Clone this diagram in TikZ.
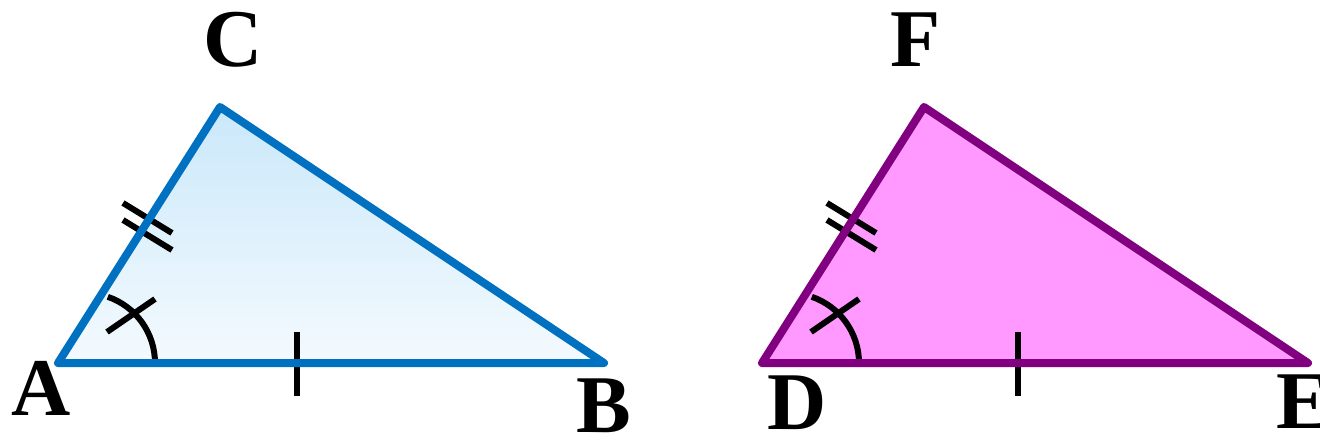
\documentclass[tikz,border=0pt]{standalone}
\usepackage{fontspec}
\setmainfont{Liberation Serif}[BoldFont={Liberation Serif Bold}]
\begin{document}
\begin{tikzpicture}[x=1pt,y=-1pt,
  tri/.style={line width=8pt,line join=round,line cap=round},
  tickmark/.style={line width=6pt,black},
  lbl/.style={font=\fontsize{82}{82}\selectfont\bfseries,inner sep=0pt}]
\useasboundingbox (0,0) rectangle (1320,440);
\definecolor{blueline}{HTML}{0070C0}
\definecolor{bluetop}{HTML}{CAE8FA}
\definecolor{bluebot}{HTML}{F4FAFE}
\definecolor{purpline}{HTML}{800080}
\definecolor{pinkfill}{HTML}{FF99FF}
% vertices
\coordinate (A) at (58,363);
\coordinate (B) at (604,363);
\coordinate (C) at (220,107);
\coordinate (D) at (762,363);
\coordinate (E) at (1308,363);
\coordinate (F) at (924,107);
% triangle ABC
\shade[top color=bluetop,bottom color=bluebot] (A) -- (B) -- (C) -- cycle;
% marks ABC
\draw[tickmark] (85,363) ++(0:70) arc[start angle=0,end angle=-71,radius=70];
\draw[tickmark] (107,332) -- (155,299);
\draw[tickmark] (123,203) -- (172,233);
\draw[tickmark] (123,220) -- (172,250);
\draw[tickmark] (297,332) -- (297,396);
\draw[tri,draw=blueline] (A) -- (B) -- (C) -- cycle;
% triangle DEF
\fill[pinkfill] (D) -- (E) -- (F) -- cycle;
\draw[tickmark] (789,363) ++(0:70) arc[start angle=0,end angle=-71,radius=70];
\draw[tickmark] (811,332) -- (859,299);
\draw[tickmark] (827,203) -- (876,233);
\draw[tickmark] (827,220) -- (876,250);
\draw[tickmark] (1018,332) -- (1018,396);
\draw[tri,draw=purpline] (D) -- (E) -- (F) -- cycle;
% labels
\node[lbl] (lA) at (41,388) {A};
\node[lbl] (lB) at (604,406) {B};
\node[lbl] (lC) at (233,40) {C};
\node[lbl] (lD) at (797,403) {D};
\node[lbl] (lE) at (1304,402) {E};
\node[lbl] (lF) at (916,40) {F};
\end{tikzpicture}
\end{document}
